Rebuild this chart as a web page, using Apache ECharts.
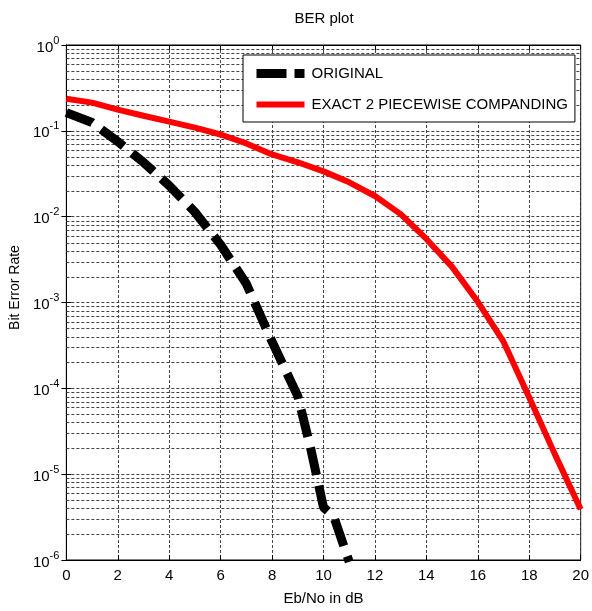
<!DOCTYPE html>
<html>
<head>
<meta charset="utf-8">
<script src="https://cdn.jsdelivr.net/npm/echarts@6/dist/echarts.min.js"></script>
<style>
html,body{margin:0;padding:0;background:#fff;}
#chart{width:592px;height:611px;}
</style>
</head>
<body>
<div id="chart"></div>
<script>
// ---- data ----
const originalX = [0, 1, 2, 3, 4, 5, 6, 7, 8, 9, 9.5, 10, 10.4, 11];
const originalBER = [0.163, 0.125, 0.075, 0.043, 0.023, 0.0113, 0.0047, 0.00165, 0.00035, 0.000081, 0.00002, 0.0000041, 0.0000032, 0.00000095];
const compandX = [0, 1, 2, 3, 4, 5, 6, 7, 8, 9, 10, 11, 12, 13, 14, 15, 16, 17, 18, 19, 20];
const compandBER = [0.237, 0.213, 0.177, 0.150, 0.128, 0.109, 0.0906, 0.0713, 0.0531, 0.043, 0.0337, 0.0251, 0.0174, 0.0107, 0.0055, 0.0026, 0.00102, 0.00035, 0.000078, 0.000017, 0.0000039];
const seriesNames = ['ORIGINAL', 'EXACT 2 PIECEWISE COMPANDING'];
const xTicks = [0, 2, 4, 6, 8, 10, 12, 14, 16, 18, 20];
const decadeExponents = [-6, -5, -4, -3, -2, -1, 0];
const minorMultipliers = [2, 3, 4, 5, 6, 7, 8, 9];

const FONT = "'Liberation Sans', Arial, sans-serif";
const pair = (xs, ys) => xs.map((x, i) => [x, ys[i]]);

// minor log grid values (2..9 x 10^k)
const minorValues = [];
decadeExponents.slice(0, -1).forEach(e => {
  minorMultipliers.forEach(m => minorValues.push([m * Math.pow(10, e)]));
});

const gridLineStyle = { color: '#444', width: 1, type: [3, 2] };

const chart = echarts.init(document.getElementById('chart'), null, { renderer: 'canvas' });
chart.setOption({
  backgroundColor: '#fff',
  animation: false,
  textStyle: { fontFamily: FONT },
  title: {
    text: 'BER plot',
    left: 324, top: 11, textAlign: 'center', padding: 0,
    textStyle: { fontFamily: FONT, fontSize: 15, fontWeight: 'normal', color: '#000' }
  },
  grid: {
    left: 64, right: 8, top: 45, bottom: 48,
    show: true, borderColor: '#000', borderWidth: 1, backgroundColor: 'transparent'
  },
  legend: {
    orient: 'vertical',
    left: 243, top: 55,
    padding: [11, 7, 10, 9],
    itemWidth: 48, itemHeight: 14, itemGap: 16,
    backgroundColor: '#fff',
    borderColor: '#000', borderWidth: 1,
    textStyle: { fontFamily: FONT, fontSize: 15, color: '#000', padding: [0, 0, 0, 2] },
    data: [
      { name: seriesNames[0], itemStyle: { opacity: 0 }, lineStyle: { color: '#000', width: 9, type: [30, 8] } },
      { name: seriesNames[1], itemStyle: { opacity: 0 }, lineStyle: { color: '#ff0000', width: 6, type: 'solid' } }
    ]
  },
  xAxis: [{
    type: 'value', min: 0, max: 20, interval: 2,
    name: 'Eb/No in dB', nameLocation: 'middle', nameGap: 31,
    nameTextStyle: { fontFamily: FONT, fontSize: 15, color: '#000' },
    axisLine: { show: true, lineStyle: { color: '#000', width: 1 } },
    axisTick: { show: true, inside: true, length: 5, lineStyle: { color: '#000' } },
    axisLabel: { fontFamily: FONT, fontSize: 15, color: '#000', margin: 8 },
    splitLine: { show: true, lineStyle: gridLineStyle }
  }, {
    type: 'value', min: 0, max: 20, interval: 2, position: 'top',
    axisLine: { show: true, lineStyle: { color: '#000', width: 1 } },
    axisTick: { show: true, inside: true, length: 5, lineStyle: { color: '#000' } },
    axisLabel: { show: false }, splitLine: { show: false }
  }],
  yAxis: [{
    type: 'log', logBase: 10, min: 1e-6, max: 1, interval: 1,
    name: 'Bit Error Rate', nameLocation: 'middle', nameGap: 39,
    nameTextStyle: { fontFamily: FONT, fontSize: 14, color: '#000', padding: [0, 0, 0, 30] },
    axisLine: { show: true, lineStyle: { color: '#000', width: 1 } },
    axisTick: { show: true, inside: true, length: 5, lineStyle: { color: '#000' } },
    axisLabel: {
      margin: 7,
      formatter: v => '{b|10}{s|' + Math.round(Math.log10(v)) + '}',
      rich: {
        b: { fontFamily: FONT, fontSize: 15, color: '#000', verticalAlign: 'bottom' },
        s: { fontFamily: FONT, fontSize: 11, color: '#000', verticalAlign: 'bottom', padding: [0, 0, 9, 0] }
      }
    },
    splitLine: { show: true, lineStyle: gridLineStyle }
  }, {
    type: 'log', logBase: 10, min: 1e-6, max: 1, interval: 1, position: 'right',
    axisLine: { show: true, lineStyle: { color: '#000', width: 1 } },
    axisTick: { show: true, inside: true, length: 5, lineStyle: { color: '#000' } },
    axisLabel: { show: false }, splitLine: { show: false }
  }],
  series: [
    {
      name: 'minor-grid', type: 'custom', silent: true, z: 1,
      xAxisIndex: 0, yAxisIndex: 0,
      encode: { y: 0 },
      data: minorValues,
      renderItem: (params, api) => {
        const v = api.value(0);
        const p1 = api.coord([0, v]);
        const p2 = api.coord([20, v]);
        const y = Math.round(p1[1]) + 0.5;
        return {
          type: 'line',
          shape: { x1: p1[0], y1: y, x2: p2[0], y2: y },
          style: { stroke: gridLineStyle.color, lineWidth: 1, lineDash: [3, 2] },
          silent: true
        };
      }
    },
    {
      name: seriesNames[1], type: 'line', data: pair(compandX, compandBER),
      symbol: 'none', z: 3, clip: true,
      lineStyle: { color: '#ff0000', width: 6 }, itemStyle: { color: '#ff0000' }
    },
    {
      name: seriesNames[0], type: 'line', data: pair(originalX, originalBER),
      symbol: 'none', z: 4, clip: true,
      lineStyle: { color: '#000', width: 9, type: [28, 11], cap: 'butt' }, itemStyle: { color: '#000' }
    }
  ]
});
</script>
</body>
</html>
